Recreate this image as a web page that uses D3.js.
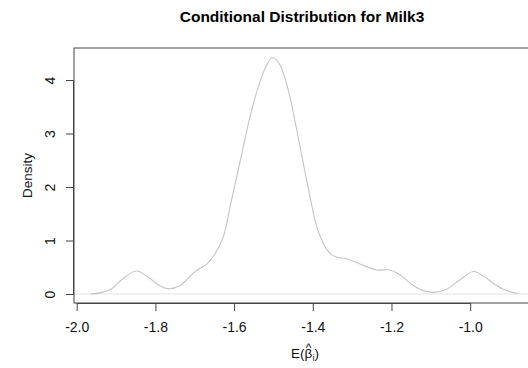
<!DOCTYPE html>
<html><head><meta charset="utf-8">
<script src="https://cdn.jsdelivr.net/npm/d3@7"></script>
<style>body{margin:0;background:#fff}svg{display:block}text{font-family:"Liberation Sans",Arial,sans-serif}</style>
</head><body>
<svg id="c" width="528" height="368"></svg>
<script>
const title = "Conditional Distribution for Milk3";
const xTicks = [-2.0, -1.8, -1.6, -1.4, -1.2, -1.0];
const yTicks = [0, 1, 2, 3, 4];
const densX = [-1.964,-1.935,-1.911,-1.882,-1.8475,-1.814,-1.790,-1.767,-1.7375,-1.7037,-1.6867,-1.6696,-1.6529,-1.6274,-1.6104,-1.5934,-1.5766,-1.5596,-1.5385,-1.5172,-1.5019,-1.4834,-1.4623,-1.4409,-1.4241,-1.4071,-1.3901,-1.3733,-1.3563,-1.340,-1.314,-1.280,-1.238,-1.204,-1.178,-1.150,-1.128,-1.094,-1.060,-1.025,-0.992,-0.965,-0.941,-0.910,-0.878];
const densY = [0.0,0.03,0.10,0.29,0.43,0.29,0.16,0.10,0.155,0.39,0.48,0.56,0.70,1.07,1.63,2.19,2.75,3.31,3.87,4.28,4.42,4.28,3.81,3.07,2.44,1.82,1.26,0.95,0.76,0.69,0.66,0.56,0.45,0.45,0.355,0.19,0.088,0.03,0.09,0.27,0.42,0.33,0.20,0.07,0.01];

const svg = d3.select("#c");
const L = 74, R = 530, T = 48, B = 303;
const x = d3.scaleLinear().domain([-2.00686, -0.848]).range([L, R]);
const y = d3.scaleLinear().domain([-0.168, 4.598]).range([B, T]);

// zero line
svg.append("line").attr("x1", L).attr("x2", R).attr("y1", y(0)).attr("y2", y(0))
  .attr("stroke", "#e3e3e3").attr("stroke-width", 1);

// density curve
const pts = densX.map((v, i) => [v, densY[i]]);
svg.append("path").datum(pts)
  .attr("d", d3.line().x(d => x(d[0])).y(d => y(d[1])).curve(d3.curveCatmullRom.alpha(0.5)))
  .attr("fill", "none").attr("stroke", "#c4c4c4").attr("stroke-width", 1.1);

// box
svg.append("rect").attr("x", L).attr("y", T).attr("width", R - L).attr("height", B - T)
  .attr("fill", "none").attr("stroke", "#444").attr("stroke-width", 1);

const fmt = d => d3.format(".1f")(d).replace("\u2212", "-");

// x axis
const xa = svg.append("g").attr("transform", `translate(0,${B})`)
  .call(d3.axisBottom(x).tickValues(xTicks).tickSize(8).tickSizeOuter(0).tickPadding(11).tickFormat(fmt));
xa.select(".domain").attr("stroke", "#444").attr("d", `M${x(-2)},0.5H${x(-1)}`);
xa.selectAll(".tick line").attr("stroke", "#444");
xa.selectAll(".tick text").attr("font-size", 14).attr("fill", "#111")
  .attr("font-family", "Liberation Sans, Arial, sans-serif");

// y axis
const ya = svg.append("g").attr("transform", `translate(${L},0)`)
  .call(d3.axisLeft(y).tickValues(yTicks).tickSize(8).tickSizeOuter(0).tickFormat(d3.format("d")));
ya.select(".domain").attr("stroke", "#444").attr("d", `M-0.5,${y(0)}V${y(4)}`);
ya.selectAll(".tick line").attr("stroke", "#444");
ya.selectAll(".tick text").attr("font-size", 14).attr("fill", "#111")
  .attr("font-family", "Liberation Sans, Arial, sans-serif")
  .attr("text-anchor", "middle").attr("x", 0).attr("y", 0)
  .attr("transform", "translate(-24,0) rotate(-90)").attr("dy", "0.35em");

// title
svg.append("text").attr("x", (L + R) / 2).attr("y", 22).attr("text-anchor", "middle")
  .attr("font-size", 15.5).attr("font-weight", "bold").attr("fill", "#000").text(title);

// y label
svg.append("text").attr("transform", `translate(32,${(T + B) / 2}) rotate(-90)`)
  .attr("text-anchor", "middle").attr("font-size", 13.5).attr("fill", "#111").text("Density");

// x label: E(beta-hat_i)
const xl = svg.append("text").attr("x", 305).attr("y", 358).attr("text-anchor", "middle")
  .attr("font-size", 13.5).attr("fill", "#111");
xl.append("tspan").text("E(");
xl.append("tspan").text("\u03B2");
xl.append("tspan").attr("font-size", 9).attr("dy", 3).text("i");
xl.append("tspan").attr("dy", -3).text(")");
let bx = 305;
try { const r = xl.node().getExtentOfChar(2); bx = r.x + r.width / 2; } catch (e) {}
svg.append("text").attr("x", bx).attr("y", 352).attr("text-anchor", "middle")
  .attr("font-size", 12).attr("fill", "#111").text("^");
</script>
</body></html>
